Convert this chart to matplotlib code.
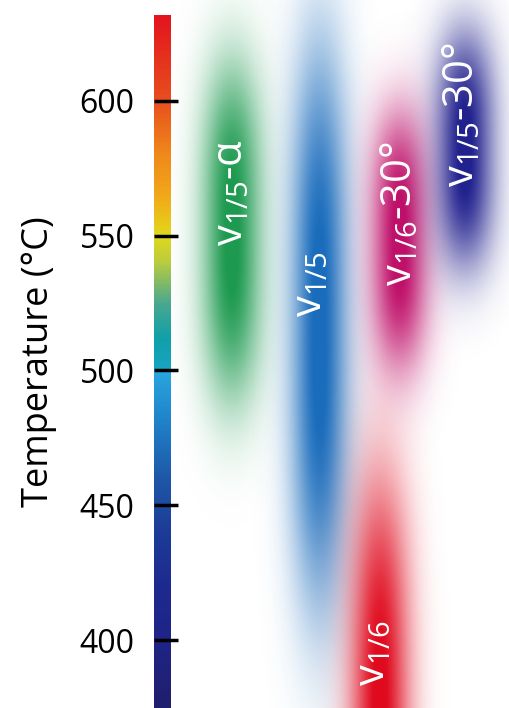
"""
    Temperature ranges of vanadium-oxide phases
"""

import numpy as np
import matplotlib as mpl
import matplotlib.pyplot as plt

plt.rcParams['font.family'] = ['Open Sans', 'DejaVu Sans']
plt.rcParams['mathtext.default'] = 'regular'

# Temperature axis
t_min, t_max = 374.8, 637.4          # figure bottom / top [°C]
bar_top = 632.0                      # top of colour bar [°C]
ticks = [400, 450, 500, 550, 600]

# Colour bar stops (temperature, colour)
cb_temp = [375, 400, 420, 440, 460, 480, 500, 501, 512, 525, 540, 550, 565, 580, 600, 632]
cb_col = ['#1f1f6e', '#1f2488', '#1e2a90', '#1c3c98', '#1e58a8', '#2080c8', '#28a8e0',
          '#18a4c0', '#10a0a8', '#4aa890', '#b8cc40', '#e2d81a', '#f2a81a', '#f08a1a',
          '#e8501e', '#e3141e']

# Phase regions: x position, centre temperature, half width [px], half height [°C]
names = [r'$v_{1/5}$-α', r'$v_{1/5}$', r'$v_{1/6}$', r'$v_{1/6}$-30°', r'$v_{1/5}$-30°']
x_pos = [232, 320, 380, 400, 465]
t_mid = [551, 516, 368, 548, 582]
x_half = [30, 29, 30, 29, 30]
t_half = [62, 103, 92, 48, 44]
colors = ['#1e9a50', '#1a6cbc', '#e00a1e', '#c0106a', '#22228f']

# Label positions
lab_x = [231, 310, 373, 400, 462]
lab_t = [566, 532, 395, 558, 595]

fig = plt.figure(figsize=(5.10, 7.08), dpi=100)

# Overlay axes for the phase regions
ax = fig.add_axes([0, 0, 1, 1])
ax.set_xlim(0, 510)
ax.set_ylim(t_min, t_max)
ax.axis('off')

for xc, tc, xh, th, c in zip(x_pos, t_mid, x_half, t_half, colors):
    xs = np.linspace(xc - 2.5 * xh, xc + 2.5 * xh, 200)
    ts = np.linspace(tc - 2 * th, tc + 2 * th, 300)
    X, T = np.meshgrid(xs, ts)
    alpha = np.exp(-((X - xc) / xh) ** 2) * np.exp(-np.abs((T - tc) / th) ** 3)
    alpha = np.clip(alpha * 1.05, 0, 1)
    rgba = np.zeros(X.shape + (4,))
    rgba[..., :3] = mpl.colors.to_rgb(c)
    rgba[..., 3] = alpha
    ax.imshow(rgba, extent=(xs[0], xs[-1], ts[0], ts[-1]), origin='lower',
              aspect='auto', interpolation='bilinear', zorder=2)

for name, lx, lt in zip(names, lab_x, lab_t):
    ax.text(lx, lt, name, color='white', fontsize=30, rotation=90,
            ha='center', va='center', zorder=5)

# Colour bar
cmap = mpl.colors.LinearSegmentedColormap.from_list(
    'temp', [((t - cb_temp[0]) / (cb_temp[-1] - cb_temp[0]), c)
             for t, c in zip(cb_temp, cb_col)])
frac_top = (bar_top - t_min) / (t_max - t_min)
cax = fig.add_axes([154 / 510, 0, 17 / 510, frac_top])
grad = np.linspace(t_min, bar_top, 400).reshape(-1, 1)
cax.imshow(grad, extent=(0, 1, t_min, bar_top), origin='lower', aspect='auto',
           cmap=cmap, vmin=cb_temp[0], vmax=cb_temp[-1])
cax.set_xlim(0, 1)
cax.set_ylim(t_min, bar_top)
cax.set_xticks([])
cax.set_yticks(ticks)
cax.tick_params(axis='y', direction='in', length=17, width=2.5, color='black',
                labelsize=23, pad=14)
for s in cax.spines.values():
    s.set_visible(False)
cax.set_ylabel('Temperature (°C)', fontsize=26, labelpad=16)

fig.savefig('out.png', dpi=100)
